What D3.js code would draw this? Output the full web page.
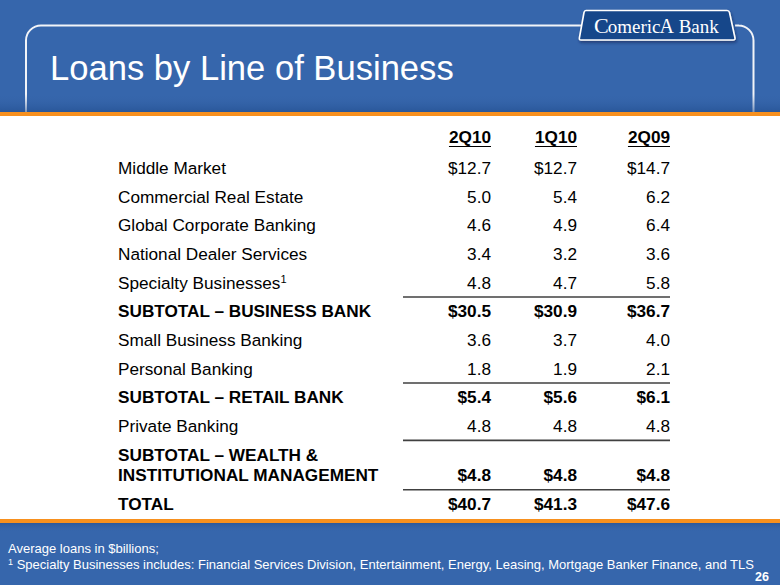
<!DOCTYPE html>
<html>
<head>
<meta charset="utf-8">
<script src="https://cdn.jsdelivr.net/npm/d3@7"></script>
<style>
  html, body { margin: 0; padding: 0; background: #3666ac; }
  svg { display: block; }
</style>
</head>
<body>
<svg id="slide"></svg>
<script>
var width = 780, height = 585;

// table data
var columns = ["2Q10", "1Q10", "2Q09"];
var rowLabels = [
  ["Middle Market"],
  ["Commercial Real Estate"],
  ["Global Corporate Banking"],
  ["National Dealer Services"],
  ["Specialty Businesses"],
  ["SUBTOTAL \u2013 BUSINESS BANK"],
  ["Small Business Banking"],
  ["Personal Banking"],
  ["SUBTOTAL \u2013 RETAIL BANK"],
  ["Private Banking"],
  ["SUBTOTAL \u2013 WEALTH &", "INSTITUTIONAL MANAGEMENT"],
  ["TOTAL"]
];
var q2_10 = [12.7, 5.0, 4.6, 3.4, 4.8, 30.5, 3.6, 1.8, 5.4, 4.8, 4.8, 40.7];
var q1_10 = [12.7, 5.4, 4.9, 3.2, 4.7, 30.9, 3.7, 1.9, 5.6, 4.8, 4.8, 41.3];
var q2_09 = [14.7, 6.2, 6.4, 3.6, 5.8, 36.7, 4.0, 2.1, 6.1, 4.8, 4.8, 47.6];
var boldRows = [5, 8, 10, 11];
var dollarRows = [0, 5, 8, 10, 11];
var footnoteRows = [4];          // rows carrying the superscript 1
var ruleAfter = [4, 7, 9, 10];   // separator line below these rows

var svg = d3.select("#slide").attr("width", width).attr("height", height);
var defs = svg.append("defs");

var shade = defs.append("linearGradient").attr("id", "shade")
    .attr("x1", 0).attr("y1", 0).attr("x2", 0).attr("y2", 1);
shade.append("stop").attr("offset", "0%").attr("stop-color", "#3666ac").attr("stop-opacity", 0);
shade.append("stop").attr("offset", "100%").attr("stop-color", "#1f4a8a").attr("stop-opacity", 0.55);

var shade2 = defs.append("linearGradient").attr("id", "shade2")
    .attr("x1", 0).attr("y1", 0).attr("x2", 0).attr("y2", 1);
shade2.append("stop").attr("offset", "0%").attr("stop-color", "#1f4a8a").attr("stop-opacity", 0.5);
shade2.append("stop").attr("offset", "100%").attr("stop-color", "#3666ac").attr("stop-opacity", 0);

var blur = defs.append("filter").attr("id", "drop").attr("x", "-20%").attr("y", "-40%")
    .attr("width", "140%").attr("height", "180%");
blur.append("feDropShadow").attr("dx", 1).attr("dy", 2).attr("stdDeviation", 1.5)
    .attr("flood-color", "#0b2350").attr("flood-opacity", 0.6);

svg.append("rect").attr("width", width).attr("height", height).attr("fill", "#3666ac");

// header frame line
var frame = d3.path();
frame.moveTo(583, 25.5);
frame.lineTo(41, 25.5);
frame.arcTo(26, 25.5, 26, 40, 15);
frame.lineTo(26, 114);
frame.moveTo(735, 25.5);
frame.lineTo(739, 25.5);
frame.arcTo(753.5, 25.5, 753.5, 40, 15);
frame.lineTo(753.5, 114);
svg.append("path").attr("d", frame.toString())
  .attr("fill", "none").attr("stroke", "#f2f4f8").attr("stroke-width", 2);

svg.append("rect").attr("x", 0).attr("y", 94).attr("width", width).attr("height", 18)
  .attr("fill", "url(#shade)");
svg.append("rect").attr("x", 0).attr("y", 523).attr("width", width).attr("height", 9)
  .attr("fill", "url(#shade2)");

// logo
var logo = svg.append("g");
logo.append("path")
  .attr("d", "M586,10.5 L727,10.5 Q729,10.5 729.5,12.5 L735,38 Q735.3,40 733,40 L581,40 Q579,40 579.4,38 L584,12.5 Q584.4,10.5 586,10.5 Z")
  .attr("fill", "#17468a").attr("stroke", "#ffffff").attr("stroke-width", 1.6)
  .attr("filter", "url(#drop)");
var logoText = logo.append("text").attr("x", 594).attr("y", 33)
  .attr("font-family", "'Liberation Serif', 'DejaVu Serif', serif")
  .attr("fill", "#ffffff");
logoText.append("tspan").attr("font-size", 22).text("C");
logoText.append("tspan").attr("font-size", 19).attr("dx", -1).text("omeric");
logoText.append("tspan").attr("font-size", 20).attr("dx", -1).text("A");
logoText.append("tspan").attr("font-size", 19).text(" Bank");

// title
svg.append("text").attr("x", 50).attr("y", 80)
  .attr("font-family", "'Liberation Sans', Arial, sans-serif")
  .attr("font-size", 34.6).attr("fill", "#ffffff")
  .text("Loans by Line of Business");

// panel
svg.append("rect").attr("x", 0).attr("y", 112).attr("width", width).attr("height", 411).attr("fill", "#f7901e");
svg.append("rect").attr("x", 0).attr("y", 116).attr("width", width).attr("height", 403).attr("fill", "#ffffff");

// row layout: each row one slot, extra lines add a partial slot
var rowPitch = 28.67, linePitch = 20.7;
var rows = rowLabels.map(function(lines, i) {
  return { i: i, lines: lines, vals: [q2_10[i], q1_10[i], q2_09[i]] };
});
var cursor = 0;
rows.forEach(function(r) {
  r.first = cursor;
  r.last = cursor + (r.lines.length - 1) * linePitch / rowPitch;
  cursor = r.last + 1;
});
var y = d3.scaleLinear().domain([0, 1]).range([168, 168 + rowPitch]);
var x = d3.scaleOrdinal().domain(columns).range([491, 577, 670]);
var fmt = d3.format(".1f");
var font = "'Liberation Sans', Arial, sans-serif";

var table = svg.append("g").attr("font-family", font).attr("font-size", 17.2).attr("fill", "#000");

// headers
var heads = table.selectAll(".head").data(columns).enter().append("text")
  .attr("class", "head")
  .attr("x", function(d) { return x(d); })
  .attr("y", 143)
  .attr("text-anchor", "end")
  .attr("font-weight", "bold")
  .text(function(d) { return d; });
heads.each(function(d) {
  var w = this.getComputedTextLength();
  table.append("line")
    .attr("x1", x(d) - w).attr("x2", x(d))
    .attr("y1", 146.5).attr("y2", 146.5)
    .attr("stroke", "#000").attr("stroke-width", 1);
});

var rowG = table.selectAll(".row").data(rows).enter().append("g").attr("class", "row")
  .attr("font-weight", function(d) { return boldRows.indexOf(d.i) >= 0 ? "bold" : "normal"; });

rowG.each(function(r) {
  var g = d3.select(this);
  r.lines.forEach(function(line, k) {
    var t = g.append("text").attr("x", 118)
      .attr("y", y(r.first) + k * linePitch + 6)
      .text(line);
    if (footnoteRows.indexOf(r.i) >= 0) {
      t.append("tspan").attr("font-size", 11).attr("dy", -6).text("1");
    }
  });
  g.selectAll(".val").data(r.vals).enter().append("text")
    .attr("class", "val")
    .attr("x", function(d, j) { return x(columns[j]); })
    .attr("y", y(r.last) + 6)
    .attr("text-anchor", "end")
    .text(function(d) { return (dollarRows.indexOf(r.i) >= 0 ? "$" : "") + fmt(d); });
});

// separators
table.selectAll(".rule").data(ruleAfter).enter().append("line")
  .attr("class", "rule")
  .attr("x1", 403).attr("x2", 670)
  .attr("y1", function(i) { return (y(rows[i].last) + y(rows[i + 1].first)) / 2; })
  .attr("y2", function(i) { return (y(rows[i].last) + y(rows[i + 1].first)) / 2; })
  .attr("stroke", "#404040").attr("stroke-width", 1.6);

// footnotes
var foot = svg.append("g").attr("font-family", font).attr("fill", "#ffffff").attr("font-size", 13);
foot.append("text").attr("x", 8).attr("y", 553).text("Average loans in $billions;");
var f2 = foot.append("text").attr("x", 8).attr("y", 569);
f2.append("tspan").attr("font-size", 9).attr("dy", -4).text("1");
f2.append("tspan").attr("dy", 4).text(" Specialty Businesses includes: Financial Services Division, Entertainment, Energy, Leasing, Mortgage Banker Finance, and TLS");
foot.append("text").attr("x", 769).attr("y", 581).attr("text-anchor", "end")
  .attr("font-weight", "bold").attr("font-size", 12.5).text("26");
</script>
</body>
</html>
